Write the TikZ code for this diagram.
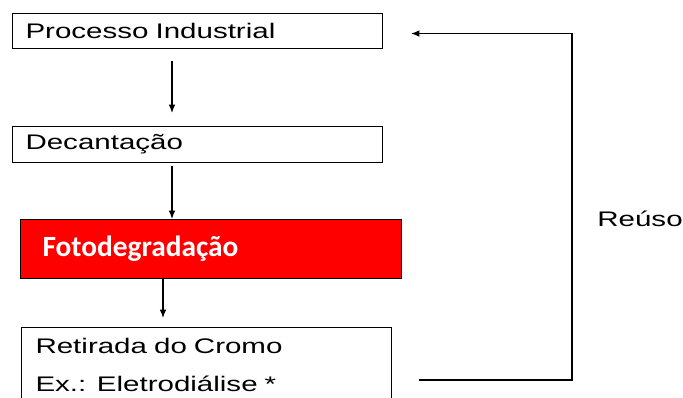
\documentclass[tikz,border=0pt]{standalone}
\usepackage{fontspec}
\setmainfont{Liberation Sans}[FakeStretch=1.4]
\newfontfamily\fotofont{Carlito}
\usepackage{tikz}
\usetikzlibrary{arrows.meta,calc}

\begin{document}
\begin{tikzpicture}[x=0.02cm, y=-0.02cm,
        stepbox/.style={draw, line width=0.6pt, anchor=north west, align=left,
                        inner ysep=0pt, font=\fontsize{12}{21.5}\selectfont},
        flow/.style={line width=0.7pt, -{Latex[length=4.8pt, width=3.8pt]}}]
        \useasboundingbox (0,0) rectangle (683,397);                     %
        \clip (0,0) rectangle (683,397);                                 %
        \node [stepbox, text width=6.88cm, inner xsep=0.26cm, minimum height=0.7cm]
              (proc) at (12,13)   {Processo Industrial};                 %PROC
        \node [stepbox, text width=6.88cm, inner xsep=0.26cm, minimum height=0.72cm]
              (dec)  at (12,126)  {Decantação};                          %DEC
        \node [stepbox, fill=red, text=white, text width=6.74cm, inner xsep=0.44cm,
               minimum height=1.18cm, font=\fotofont\fontsize{16.7}{19}\selectfont\bfseries]
              (foto) at (20,219)  {Fotodegradação};                      %FOTO
        \node [stepbox, text width=6.84cm, inner xsep=0.28cm, inner ysep=0.22cm]
              (ret)  at (21,327)  {Retirada do Cromo\\Ex.: Eletrodiálise *}; %RET
        \node [anchor=west, inner sep=0pt, font=\fontsize{12}{14}\selectfont]
              (reuso) at (597,219) {Reúso};                              %
        \draw [flow] ($(proc.south west)+(160,12)$) -- ($(dec.north west)+(160,-13)$);
        \draw [flow] ($(dec.south west)+(160,3)$)   -- ($(foto.north west)+(152,0)$);
        \draw [flow] ($(foto.south west)+(143,0)$)  -- ($(ret.north west)+(142,-9)$);
        \draw [flow] ($(ret.north east)+(27,53)$) -| ($(proc.east)+(189,2.5)$)
                     -- ($(proc.east)+(28,2.5)$);                        %REUSO
\end{tikzpicture}
\end{document}
